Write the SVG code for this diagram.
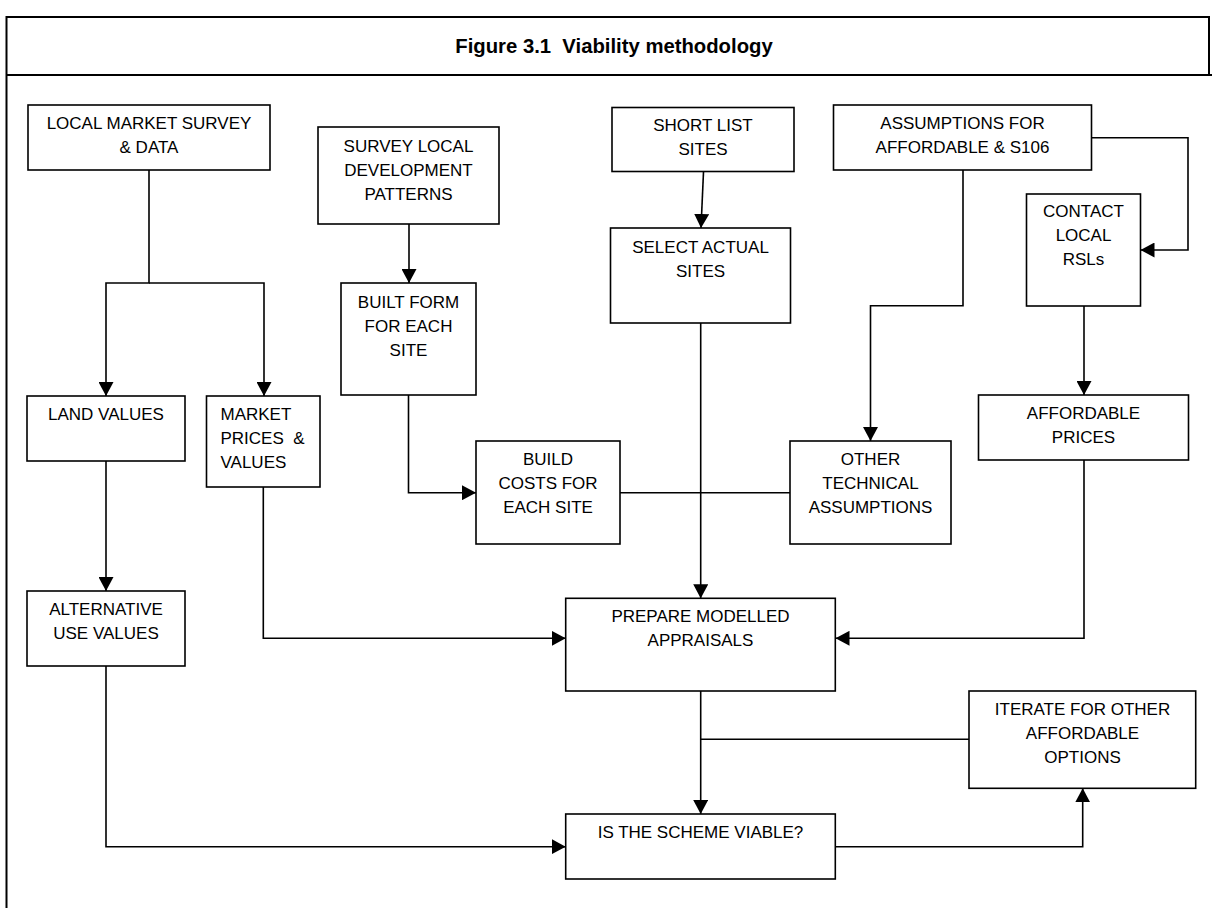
<svg xmlns="http://www.w3.org/2000/svg" width="1212" height="908" viewBox="0 0 1212 908">
<style>
.box{fill:#fff;stroke:#000;stroke-width:1.6}
.t{font-family:"Liberation Sans",Arial,sans-serif;font-size:17px;fill:#000;text-anchor:middle}
.tl{text-anchor:start}
.c{fill:none;stroke:#000;stroke-width:1.6}
.frame{fill:none;stroke:#000;stroke-width:2}
.title{font-family:"Liberation Sans",Arial,sans-serif;font-size:20.3px;font-weight:bold;fill:#000;text-anchor:middle}
</style>
<defs>
<marker id="ah" markerUnits="userSpaceOnUse" markerWidth="14" markerHeight="15" viewBox="0 0 14 15" refX="14" refY="7.5" orient="auto"><path d="M0,0 L14,7.5 L0,15 Z" fill="#000"/></marker>
</defs>
<rect width="1212" height="908" fill="#fff"/>
<g id="frame">
<path class="frame" d="M6.5,908 V17 H1209 V75 M6.5,75 H1212"/>
<text class="title" x="614" y="53" xml:space="preserve">Figure 3.1  Viability methodology</text>
</g>
<g id="connectors">
<path class="c" d="M149,170 V283 H106 V396" marker-end="url(#ah)"/>
<path class="c" d="M149,283 H264 V396" marker-end="url(#ah)"/>
<path class="c" d="M409,224 V283" marker-end="url(#ah)"/>
<path class="c" d="M703.5,172 L701,228" marker-end="url(#ah)"/>
<path class="c" d="M700.7,323 V598.3" marker-end="url(#ah)"/>
<path class="c" d="M408.5,395 V492.7 H476" marker-end="url(#ah)"/>
<path class="c" d="M620,492.7 H790"/>
<path class="c" d="M963,170 V305.7 H870.5 V441" marker-end="url(#ah)"/>
<path class="c" d="M1092,137.7 H1188 V250 H1140.5" marker-end="url(#ah)"/>
<path class="c" d="M1084,306 V395" marker-end="url(#ah)"/>
<path class="c" d="M1084,460 V638.3 H835.5" marker-end="url(#ah)"/>
<path class="c" d="M263.3,487 V638.3 H565.7" marker-end="url(#ah)"/>
<path class="c" d="M106,461 V591" marker-end="url(#ah)"/>
<path class="c" d="M106,666 V846.7 H565.7" marker-end="url(#ah)"/>
<path class="c" d="M700.7,691 V814" marker-end="url(#ah)"/>
<path class="c" d="M969,739.3 H700.7"/>
<path class="c" d="M835.3,846.7 H1082.7 V788.3" marker-end="url(#ah)"/>
</g>
<g id="local-market">
<rect class="box" x="28" y="105" width="242" height="65"/>
<text class="t" x="149" y="129">LOCAL MARKET SURVEY</text>
<text class="t" x="149" y="153">&amp; DATA</text>
</g>
<g id="survey-local">
<rect class="box" x="318" y="127" width="181" height="97"/>
<text class="t" x="408.5" y="151.5">SURVEY LOCAL</text>
<text class="t" x="408.5" y="175.5">DEVELOPMENT</text>
<text class="t" x="408.5" y="199.5">PATTERNS</text>
</g>
<g id="short-list">
<rect class="box" x="612" y="107.5" width="182" height="64"/>
<text class="t" x="703" y="131">SHORT LIST</text>
<text class="t" x="703" y="155">SITES</text>
</g>
<g id="assumptions">
<rect class="box" x="833.5" y="105" width="258" height="65"/>
<text class="t" x="962.5" y="129.3">ASSUMPTIONS FOR</text>
<text class="t" x="962.5" y="153.3">AFFORDABLE &amp; S106</text>
</g>
<g id="contact">
<rect class="box" x="1026.5" y="194" width="114" height="112"/>
<text class="t" x="1083.5" y="217">CONTACT</text>
<text class="t" x="1083.5" y="241">LOCAL</text>
<text class="t" x="1083.5" y="265">RSLs</text>
</g>
<g id="select-actual">
<rect class="box" x="610.5" y="228" width="180" height="95"/>
<text class="t" x="700.5" y="253">SELECT ACTUAL</text>
<text class="t" x="700.5" y="277">SITES</text>
</g>
<g id="built-form">
<rect class="box" x="341" y="283" width="135" height="112"/>
<text class="t" x="408.5" y="308">BUILT FORM</text>
<text class="t" x="408.5" y="332">FOR EACH</text>
<text class="t" x="408.5" y="356">SITE</text>
</g>
<g id="land-values">
<rect class="box" x="27" y="396" width="158" height="65"/>
<text class="t" x="106" y="420">LAND VALUES</text>
</g>
<g id="market-prices">
<rect class="box" x="206.5" y="396" width="113.5" height="91"/>
<text class="t tl" x="220.5" y="420">MARKET</text>
<text class="t tl" x="220.5" y="444" xml:space="preserve">PRICES  &amp;</text>
<text class="t tl" x="220.5" y="468">VALUES</text>
</g>
<g id="affordable-prices">
<rect class="box" x="978.5" y="395" width="210" height="65"/>
<text class="t" x="1083.5" y="419.3">AFFORDABLE</text>
<text class="t" x="1083.5" y="443.3">PRICES</text>
</g>
<g id="build-costs">
<rect class="box" x="476" y="441" width="144" height="103"/>
<text class="t" x="548" y="465">BUILD</text>
<text class="t" x="548" y="489">COSTS FOR</text>
<text class="t" x="548" y="513">EACH SITE</text>
</g>
<g id="other-technical">
<rect class="box" x="790" y="441" width="161" height="103"/>
<text class="t" x="870.5" y="465">OTHER</text>
<text class="t" x="870.5" y="489">TECHNICAL</text>
<text class="t" x="870.5" y="513">ASSUMPTIONS</text>
</g>
<g id="alternative-use">
<rect class="box" x="27" y="591" width="158" height="75"/>
<text class="t" x="106" y="615">ALTERNATIVE</text>
<text class="t" x="106" y="639">USE VALUES</text>
</g>
<g id="prepare-appraisals">
<rect class="box" x="565.7" y="598.3" width="269.6" height="92.7"/>
<text class="t" x="700.5" y="622">PREPARE MODELLED</text>
<text class="t" x="700.5" y="646">APPRAISALS</text>
</g>
<g id="iterate">
<rect class="box" x="969" y="691" width="226.7" height="97.3"/>
<text class="t" x="1082.5" y="715">ITERATE FOR OTHER</text>
<text class="t" x="1082.5" y="739">AFFORDABLE</text>
<text class="t" x="1082.5" y="763">OPTIONS</text>
</g>
<g id="is-viable">
<rect class="box" x="565.7" y="814" width="269.6" height="65"/>
<text class="t" x="700.5" y="838">IS THE SCHEME VIABLE?</text>
</g>
</svg>
